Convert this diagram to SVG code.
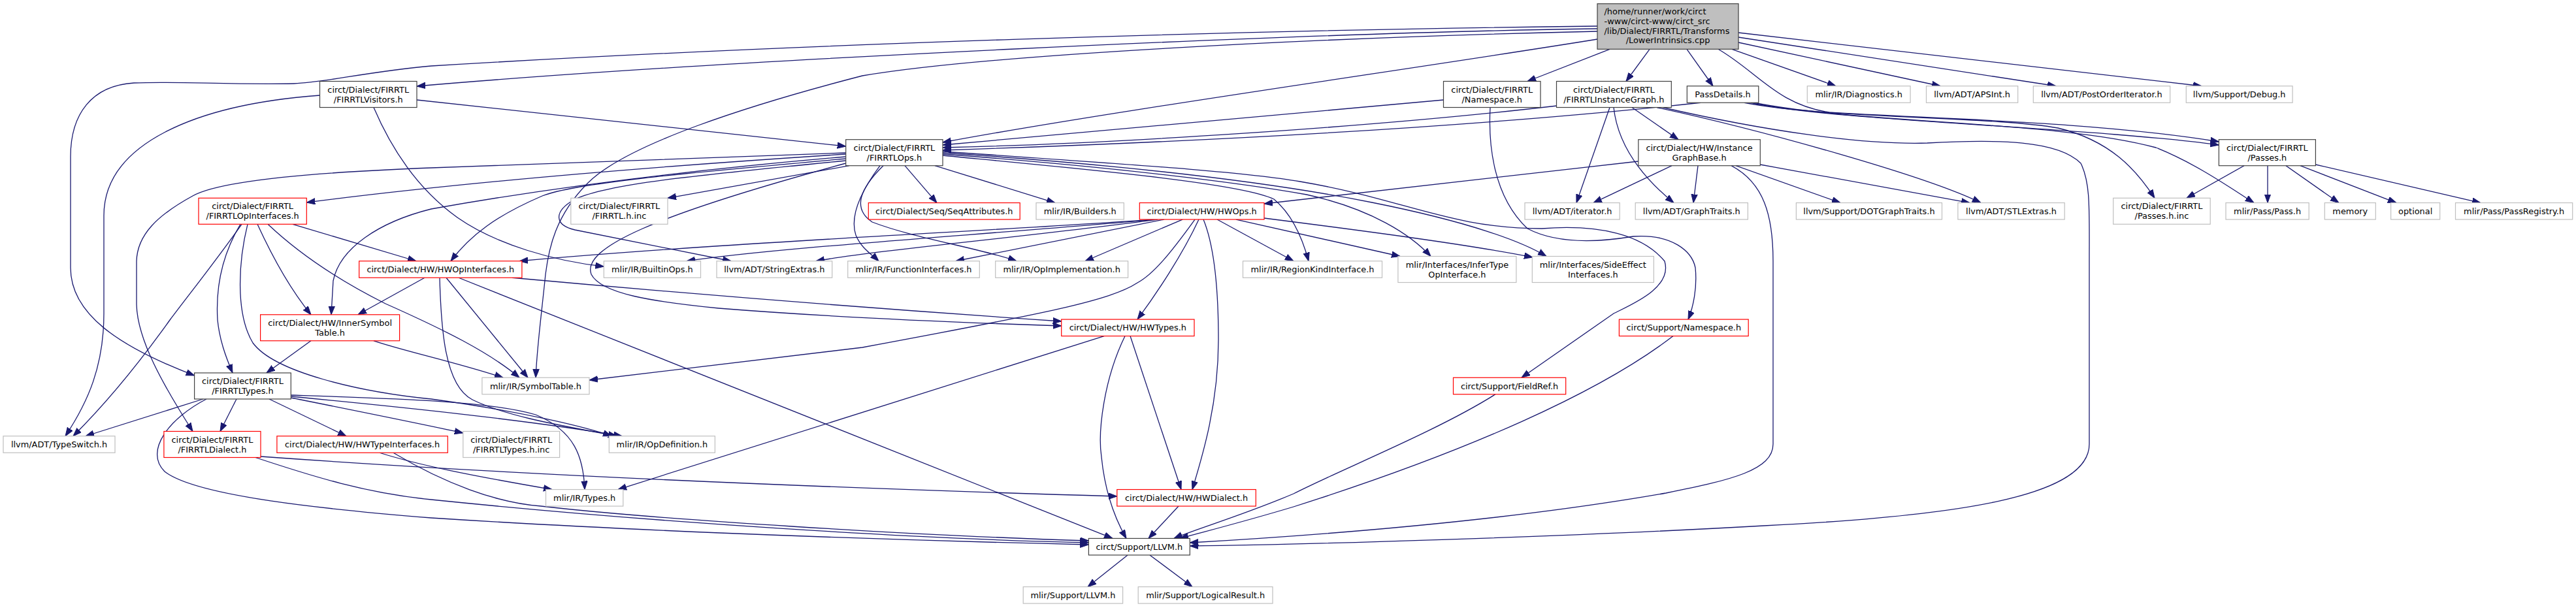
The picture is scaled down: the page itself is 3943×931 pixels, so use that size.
<svg xmlns="http://www.w3.org/2000/svg" width="3943" height="931" viewBox="0 0 3943 931">
<style>
.bg{fill:#fff}
rect{stroke-width:1.2}
.nb{fill:#fff;stroke:#404040}
.nr{fill:#fff;stroke:#ff0000}
.ng{fill:#fff;stroke:#bfbfbf}
.nm{fill:#bfbfbf;stroke:#404040}
text{font-family:"DejaVu Sans","Liberation Sans",sans-serif;font-size:12.9px;fill:#000;text-anchor:middle}
text.l{text-anchor:start}
.e path{fill:none;stroke:#191970;stroke-width:1.3;marker-end:url(#arr)}
</style>
<defs>
<marker id="arr" markerUnits="userSpaceOnUse" markerWidth="15" markerHeight="11" refX="13" refY="5" orient="auto">
<path d="M0,0.3 L13,5 L0,9.7 z" fill="#191970" stroke="#191970" stroke-width="1"/>
</marker>
</defs>
<rect class="bg" x="0" y="0" width="3943" height="931"/>
<g id="connectors" class="e">
<path d="M2445,44 C2000,50 1100,92 638,132"/>
<path d="M2445,40 C1900,46 1200,68 660,101 C560,110 500,126 450,128 C350,130 270,124 205,127 C140,131 108,175 108,240 L108,410 C108,480 180,530 297.6,575"/>
<path d="M2445,48 C2000,58 1500,85 1320,116 C1150,160 960,220 900,280 C850,330 840,380 835,420 C829,480 822,530 820,578.25"/>
<path d="M2445,60 C2200,100 1700,170 1443,218"/>
<path d="M2464,75.3 L2338,124.5"/>
<path d="M2525,75.3 L2489,124.5"/>
<path d="M2582,75.3 L2622,131.75"/>
<path d="M2651,75.3 L2810,131.75"/>
<path d="M2661,65 L2970,131.75"/>
<path d="M2661,57 L3147,131.75"/>
<path d="M2661,50 L3370,131.75"/>
<path d="M2630,75.3 C2690,110 2720,160 2800,172 C2950,182 3200,185 3396.4,217"/>
<path d="M638,153 L1294.7,224"/>
<path d="M489.5,146 C300,160 159,220 159,330 L159,480 C159,560 135,615 100,667.75"/>
<path d="M572,164.5 C600,230 640,290 700,333 C760,375 850,400 924.3,408"/>
<path d="M2209.5,153 C1900,180 1600,210 1443,222"/>
<path d="M2281,164.5 C2278,220 2285,300 2338,350 C2380,372 2440,372 2500,362 C2560,358 2590,385 2595,410 C2598,440 2592,470 2584,489.05"/>
<path d="M2383,162 C2100,195 1700,220 1443,226"/>
<path d="M2498,164.5 L2569,213.7"/>
<path d="M2464,164.5 L2413,310.55"/>
<path d="M2470,164.5 C2475,210 2500,260 2562,310.55"/>
<path d="M2536,164.5 C2700,200 2950,270 3032,310.55"/>
<path d="M2545,164.5 C2700,200 2850,222 2950,219 C3060,213 3150,215 3185,250 C3200,280 3198,320 3198,400 L3198,680 C3198,760 3000,790 2700,805 C2400,822 2000,834 1821.3,836"/>
<path d="M2603,157.25 C2300,190 1900,215 1443,230"/>
<path d="M2680,157.25 C2800,185 3200,195 3396.4,222"/>
<path d="M2685,157.25 C2850,190 3150,185 3300,226 C3360,250 3410,285 3450,310.55"/>
<path d="M2670,157.25 C2800,182 3050,178 3150,196 C3230,215 3270,260 3298,303.3"/>
<path d="M1300,253.7 L1022,303.3"/>
<path d="M1385,253.7 L1434,310.55"/>
<path d="M1431,253.7 L1615,310.55"/>
<path d="M1294.7,236 C1000,255 700,280 469.3,310"/>
<path d="M1294.7,234 C1000,243 800,250 660,257 C450,265 330,280 295,300 C240,330 210,360 209,400 L209,466 C210,520 250,590 295,660.5"/>
<path d="M1294.7,240 C1000,265 800,295 660,320 C580,340 520,380 510,430 L507,481.8"/>
<path d="M1294.7,243 C1050,265 880,280 830,300 C760,330 720,360 690,399.75"/>
<path d="M1294.7,246 C1050,270 930,282 880,305 C845,325 850,345 880,352 L1119,399.75"/>
<path d="M1294.7,250 C1000,330 890,380 905,420 C920,450 1000,462 1100,472 C1300,488 1500,495 1624.7,499"/>
<path d="M1347,253.7 C1320,290 1300,330 1310,360 C1318,380 1335,390 1345,399.75"/>
<path d="M1352,253.7 C1315,290 1305,320 1335,340 C1400,365 1500,380 1556,399.75"/>
<path d="M1443,238 C1650,258 1900,280 1950,305 C1980,330 1995,370 2003,399.75"/>
<path d="M1443,236 C1700,255 1900,280 2000,298 C2100,320 2160,360 2190,392.5"/>
<path d="M1443,234 C1800,258 2000,290 2100,310 C2250,340 2330,370 2367,392.5"/>
<path d="M1443,232 C1700,250 1900,262 1990,278 C2150,305 2220,350 2360,350 C2450,343 2515,360 2548,400 C2560,440 2500,465 2470,480 L2329,578.25"/>
<path d="M1765,336.05 C1500,355 1100,372 795,399.75"/>
<path d="M1768,336.05 C1500,360 1200,378 1051,399.75"/>
<path d="M1772,336.05 C1550,365 1350,382 1249,399.75"/>
<path d="M1782,336.05 L1463,399.75"/>
<path d="M1810,336.05 L1661,399.75"/>
<path d="M1863,336.05 L1980,399.75"/>
<path d="M1892,336.05 L2143,392.5"/>
<path d="M1935,334 C2100,355 2250,375 2346,394"/>
<path d="M1829,336.05 C1790,390 1765,420 1741,433 C1700,460 1600,480 1320,532 L902,582"/>
<path d="M1835,336.05 C1810,390 1770,450 1741,489.05"/>
<path d="M1842,336.05 C1860,380 1865,450 1865,520 C1865,620 1840,700 1825,749.55"/>
<path d="M2507.8,247 L1935,312"/>
<path d="M2559,253.7 L2439,310.55"/>
<path d="M2599,253.7 L2592,310.55"/>
<path d="M2657,253.7 L2817,310.55"/>
<path d="M2694.3,252 L3015,310.55"/>
<path d="M2650,253.7 C2700,280 2714,330 2714,400 L2714,680 C2714,720 2650,735 2550,755 C2350,790 2100,815 1821.3,831"/>
<path d="M3435,253.7 L3347,303.3"/>
<path d="M3471,253.7 L3471,310.55"/>
<path d="M3499,253.7 L3580,310.55"/>
<path d="M3521,253.7 L3668,310.55"/>
<path d="M3544.4,252 L3797,310.55"/>
<path d="M370,343.3 C330,400 290,450 260,490 C210,560 160,620 112,667.75"/>
<path d="M368,343.3 C340,390 330,440 333,490 C336,520 345,545 356,571"/>
<path d="M379,343.3 C365,400 360,480 387,525 C420,570 550,600 660,611 C800,630 900,655 936,667.75"/>
<path d="M394,343.3 C420,400 450,450 476,481.8"/>
<path d="M410,343.3 C470,400 540,440 590,465 C680,505 750,540 795,578.25"/>
<path d="M448,343.3 L637,399.75"/>
<path d="M650,425.25 L548,481.8"/>
<path d="M683,425.25 L808,578.25"/>
<path d="M702,425.25 L1703,824.45"/>
<path d="M784,425.25 C1000,445 1300,470 1624.7,492"/>
<path d="M673,425.25 C675,500 680,590 723,612 C780,640 880,655 944,667.75"/>
<path d="M476,521.8 L408,571"/>
<path d="M572,521.8 C620,538 700,555 770,578.25"/>
<path d="M311,611 L131,667.75"/>
<path d="M362,611 L337,660.5"/>
<path d="M412,611 L530,667.75"/>
<path d="M445.3,609 C550,630 640,648 708.8,663"/>
<path d="M445.3,607 C600,622 800,642 952,667.75"/>
<path d="M445.3,605 C600,610 750,614 820,635 C880,660 893,700 895,749.55"/>
<path d="M316,611 C260,640 220,690 252,722 C300,760 500,780 660,793 C1000,815 1400,828 1666.4,834"/>
<path d="M399,699 C800,728 1300,748 1709.8,760"/>
<path d="M391,700.5 C480,730 560,755 660,765 C1000,800 1400,825 1666.4,831"/>
<path d="M581,693.25 C640,712 720,728 845,749.55"/>
<path d="M602,693.25 C680,740 760,770 828,775 C1000,795 1400,820 1666.4,828"/>
<path d="M1690,514.55 L946,749.55"/>
<path d="M1722,514.55 C1690,580 1680,660 1686,700 C1692,760 1710,800 1724,824.45"/>
<path d="M1730,514.55 L1808,749.55"/>
<path d="M1804,775.05 L1758,824.45"/>
<path d="M2561,514.55 C2450,600 2250,690 1980,776 C1900,800 1840,815 1806,824.45"/>
<path d="M2289,603.75 C2200,660 2050,720 1980,756 C1900,790 1830,810 1797,824.45"/>
<path d="M1726,849.95 L1665,898.55"/>
<path d="M1760,849.95 L1825,898.55"/>
</g>
<g id="n_main"><rect class="nm" x="2445" y="5.7" width="216" height="69.6"/><text class="l" x="2455.5" y="22">/home/runner/work/circt</text><text class="l" x="2455.5" y="36.8">-www/circt-www/circt_src</text><text class="l" x="2455.5" y="51.6">/lib/Dialect/FIRRTL/Transforms</text><text x="2553" y="66.4">/LowerIntrinsics.cpp</text></g>
<g id="n_visitors"><rect class="nb" x="489.5" y="124.5" width="148.5" height="40"/><text x="563.75" y="141.5">circt/Dialect/FIRRTL</text><text x="563.75" y="156.5">/FIRRTLVisitors.h</text></g>
<g id="n_nsf"><rect class="nb" x="2209.5" y="124.5" width="148.5" height="40"/><text x="2283.75" y="141.5">circt/Dialect/FIRRTL</text><text x="2283.75" y="156.5">/Namespace.h</text></g>
<g id="n_ig"><rect class="nb" x="2382.5" y="124.5" width="175.8" height="40"/><text x="2470.4" y="141.5">circt/Dialect/FIRRTL</text><text x="2470.4" y="156.5">/FIRRTLInstanceGraph.h</text></g>
<g id="n_pd"><rect class="nb" x="2582.3" y="131.75" width="109.5" height="25.5"/><text x="2637.05" y="149.1">PassDetails.h</text></g>
<g id="n_diag"><rect class="ng" x="2766.3" y="131.75" width="157.8" height="25.5"/><text x="2845.2" y="149.1">mlir/IR/Diagnostics.h</text></g>
<g id="n_apsint"><rect class="ng" x="2948.5" y="131.75" width="140.2" height="25.5"/><text x="3018.6" y="149.1">llvm/ADT/APSInt.h</text></g>
<g id="n_poi"><rect class="ng" x="3112.3" y="131.75" width="209.4" height="25.5"/><text x="3217" y="149.1">llvm/ADT/PostOrderIterator.h</text></g>
<g id="n_debug"><rect class="ng" x="3346.3" y="131.75" width="162.8" height="25.5"/><text x="3427.7" y="149.1">llvm/Support/Debug.h</text></g>
<g id="n_ops"><rect class="nb" x="1294.7" y="213.7" width="148.3" height="40"/><text x="1368.85" y="230.7">circt/Dialect/FIRRTL</text><text x="1368.85" y="245.7">/FIRRTLOps.h</text></g>
<g id="n_igb"><rect class="nb" x="2507.8" y="213.7" width="186.5" height="40"/><text x="2601.05" y="230.7">circt/Dialect/HW/Instance</text><text x="2601.05" y="245.7">GraphBase.h</text></g>
<g id="n_passes"><rect class="nb" x="3396.4" y="213.7" width="148" height="40"/><text x="3470.4" y="230.7">circt/Dialect/FIRRTL</text><text x="3470.4" y="245.7">/Passes.h</text></g>
<g id="n_opif"><rect class="nr" x="304" y="303.3" width="165.3" height="40"/><text x="386.65" y="320.3">circt/Dialect/FIRRTL</text><text x="386.65" y="335.3">/FIRRTLOpInterfaces.h</text></g>
<g id="n_hinc"><rect class="ng" x="873.8" y="303.3" width="148.2" height="40"/><text x="947.9" y="320.3">circt/Dialect/FIRRTL</text><text x="947.9" y="335.3">/FIRRTL.h.inc</text></g>
<g id="n_seqattr"><rect class="nr" x="1329.3" y="310.55" width="231.9" height="25.5"/><text x="1445.25" y="327.9">circt/Dialect/Seq/SeqAttributes.h</text></g>
<g id="n_builders"><rect class="ng" x="1586" y="310.55" width="134.3" height="25.5"/><text x="1653.15" y="327.9">mlir/IR/Builders.h</text></g>
<g id="n_hwops"><rect class="nr" x="1744.3" y="310.55" width="190.7" height="25.5"/><text x="1839.65" y="327.9">circt/Dialect/HW/HWOps.h</text></g>
<g id="n_iter"><rect class="ng" x="2334" y="310.55" width="145.2" height="25.5"/><text x="2406.6" y="327.9">llvm/ADT/iterator.h</text></g>
<g id="n_gt"><rect class="ng" x="2503.2" y="310.55" width="172.2" height="25.5"/><text x="2589.3" y="327.9">llvm/ADT/GraphTraits.h</text></g>
<g id="n_dotgt"><rect class="ng" x="2749.4" y="310.55" width="223.1" height="25.5"/><text x="2860.95" y="327.9">llvm/Support/DOTGraphTraits.h</text></g>
<g id="n_stl"><rect class="ng" x="2996.9" y="310.55" width="163.3" height="25.5"/><text x="3078.55" y="327.9">llvm/ADT/STLExtras.h</text></g>
<g id="n_pinc"><rect class="ng" x="3234.7" y="303.3" width="148.5" height="40"/><text x="3308.95" y="320.3">circt/Dialect/FIRRTL</text><text x="3308.95" y="335.3">/Passes.h.inc</text></g>
<g id="n_pass"><rect class="ng" x="3407" y="310.55" width="127.2" height="25.5"/><text x="3470.6" y="327.9">mlir/Pass/Pass.h</text></g>
<g id="n_memory"><rect class="ng" x="3558.3" y="310.55" width="78" height="25.5"/><text x="3597.3" y="327.9">memory</text></g>
<g id="n_optional"><rect class="ng" x="3659.6" y="310.55" width="75.1" height="25.5"/><text x="3697.15" y="327.9">optional</text></g>
<g id="n_preg"><rect class="ng" x="3758.5" y="310.55" width="179.2" height="25.5"/><text x="3848.1" y="327.9">mlir/Pass/PassRegistry.h</text></g>
<g id="n_hwopif"><rect class="nr" x="549.7" y="399.75" width="249.2" height="25.5"/><text x="674.3" y="417.1">circt/Dialect/HW/HWOpInterfaces.h</text></g>
<g id="n_builtin"><rect class="ng" x="924.3" y="399.75" width="148.2" height="25.5"/><text x="998.4" y="417.1">mlir/IR/BuiltinOps.h</text></g>
<g id="n_strext"><rect class="ng" x="1097" y="399.75" width="176.7" height="25.5"/><text x="1185.35" y="417.1">llvm/ADT/StringExtras.h</text></g>
<g id="n_funcif"><rect class="ng" x="1297.7" y="399.75" width="201.6" height="25.5"/><text x="1398.5" y="417.1">mlir/IR/FunctionInterfaces.h</text></g>
<g id="n_opimpl"><rect class="ng" x="1523.7" y="399.75" width="202.9" height="25.5"/><text x="1625.15" y="417.1">mlir/IR/OpImplementation.h</text></g>
<g id="n_regkind"><rect class="ng" x="1902.5" y="399.75" width="213" height="25.5"/><text x="2009" y="417.1">mlir/IR/RegionKindInterface.h</text></g>
<g id="n_infer"><rect class="ng" x="2139.9" y="392.5" width="181" height="40"/><text x="2230.4" y="409.5">mlir/Interfaces/InferType</text><text x="2230.4" y="424.5">OpInterface.h</text></g>
<g id="n_side"><rect class="ng" x="2345.3" y="392.5" width="186.1" height="40"/><text x="2438.35" y="409.5">mlir/Interfaces/SideEffect</text><text x="2438.35" y="424.5">Interfaces.h</text></g>
<g id="n_innersym"><rect class="nr" x="398.6" y="481.8" width="213" height="40"/><text x="505.1" y="498.8">circt/Dialect/HW/InnerSymbol</text><text x="505.1" y="513.8">Table.h</text></g>
<g id="n_hwtypes"><rect class="nr" x="1624.7" y="489.05" width="203.3" height="25.5"/><text x="1726.35" y="506.4">circt/Dialect/HW/HWTypes.h</text></g>
<g id="n_supns"><rect class="nr" x="2478.4" y="489.05" width="197.8" height="25.5"/><text x="2577.3" y="506.4">circt/Support/Namespace.h</text></g>
<g id="n_ftypes"><rect class="nb" x="297.6" y="571" width="147.7" height="40"/><text x="371.45" y="588">circt/Dialect/FIRRTL</text><text x="371.45" y="603">/FIRRTLTypes.h</text></g>
<g id="n_symtab"><rect class="ng" x="737.9" y="578.25" width="164.1" height="25.5"/><text x="819.95" y="595.6">mlir/IR/SymbolTable.h</text></g>
<g id="n_fieldref"><rect class="nr" x="2224.5" y="578.25" width="172.2" height="25.5"/><text x="2310.6" y="595.6">circt/Support/FieldRef.h</text></g>
<g id="n_typeswitch"><rect class="ng" x="5" y="667.75" width="171" height="25.5"/><text x="90.5" y="685.1">llvm/ADT/TypeSwitch.h</text></g>
<g id="n_fdialect"><rect class="nr" x="250.9" y="660.5" width="148.1" height="40"/><text x="324.95" y="677.5">circt/Dialect/FIRRTL</text><text x="324.95" y="692.5">/FIRRTLDialect.h</text></g>
<g id="n_hwtypeif"><rect class="nr" x="423.9" y="667.75" width="261.4" height="25.5"/><text x="554.6" y="685.1">circt/Dialect/HW/HWTypeInterfaces.h</text></g>
<g id="n_ftinc"><rect class="ng" x="708.8" y="660.5" width="147.8" height="40"/><text x="782.7" y="677.5">circt/Dialect/FIRRTL</text><text x="782.7" y="692.5">/FIRRTLTypes.h.inc</text></g>
<g id="n_opdef"><rect class="ng" x="932.3" y="667.75" width="162.1" height="25.5"/><text x="1013.35" y="685.1">mlir/IR/OpDefinition.h</text></g>
<g id="n_types"><rect class="ng" x="835.5" y="749.55" width="118.3" height="25.5"/><text x="894.65" y="766.9">mlir/IR/Types.h</text></g>
<g id="n_hwdialect"><rect class="nr" x="1709.8" y="749.55" width="212.5" height="25.5"/><text x="1816.05" y="766.9">circt/Dialect/HW/HWDialect.h</text></g>
<g id="n_llvm"><rect class="nb" x="1666.4" y="824.45" width="154.9" height="25.5"/><text x="1743.85" y="841.8">circt/Support/LLVM.h</text></g>
<g id="n_mllvm"><rect class="ng" x="1566.2" y="898.55" width="152.4" height="25.5"/><text x="1642.4" y="915.9">mlir/Support/LLVM.h</text></g>
<g id="n_logres"><rect class="ng" x="1742.2" y="898.55" width="205.8" height="25.5"/><text x="1845.1" y="915.9">mlir/Support/LogicalResult.h</text></g>
</svg>
